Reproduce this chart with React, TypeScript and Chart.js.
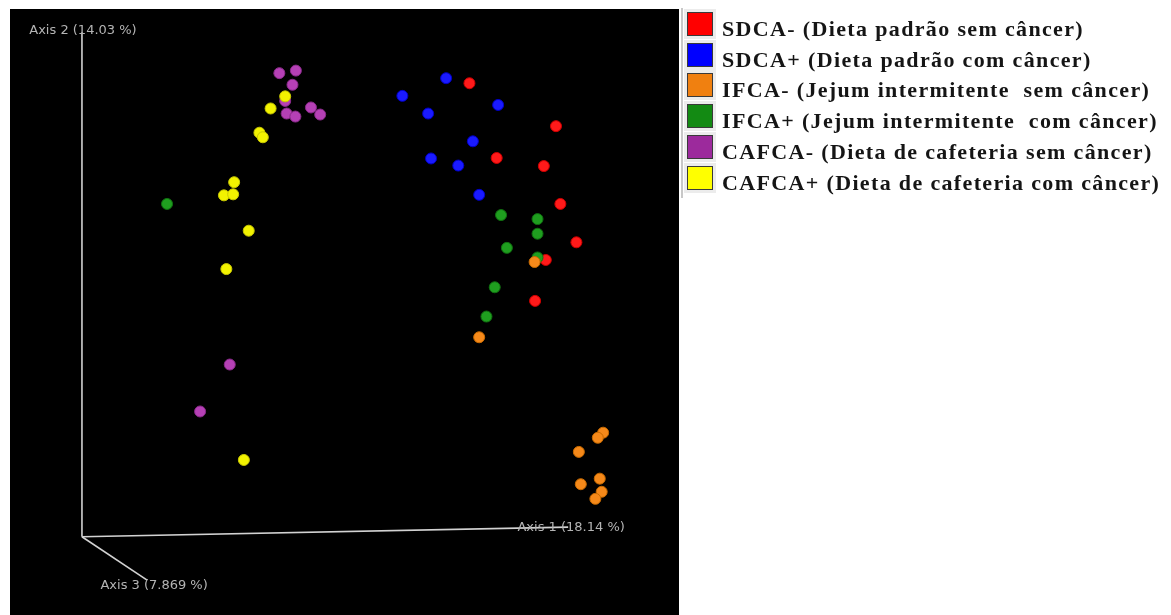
import React, { useEffect, useRef } from "react";
import { Chart, registerables } from "chart.js";

Chart.register(...registerables);

// ---- data (projected PCoA coordinates, axis-length units) ----
const groupNames = [
  "SDCA- (Dieta padrão sem câncer)",
  "SDCA+ (Dieta padrão com câncer)",
  "IFCA- (Jejum intermitente  sem câncer)",
  "IFCA+ (Jejum intermitente  com câncer)",
  "CAFCA- (Dieta de cafeteria sem câncer)",
  "CAFCA+ (Dieta de cafeteria com câncer)",
];
const groupColors = ["#ff0000", "#0000ff", "#f08010", "#138a13", "#9c2a9c", "#ffff00"];
const pointColors = ["#ff1a1a", "#1a1aff", "#f5891a", "#1f9e1f", "#b540b5", "#f2f200"];
const pointBorders = ["#d00000", "#0000c8", "#c86a00", "#107010", "#8a2a8a", "#c8c800"];
const drawOrder = [5, 4, 2, 3, 1, 0];

const sdcaNeg = [
  { x: 0.797, y: 0.898 }, { x: 0.975, y: 0.813 }, { x: 0.853, y: 0.75 }, { x: 0.95, y: 0.734 },
  { x: 0.984, y: 0.659 }, { x: 1.017, y: 0.583 }, { x: 0.954, y: 0.548 }, { x: 0.932, y: 0.467 },
];
const sdcaPos = [
  { x: 0.749, y: 0.908 }, { x: 0.659, y: 0.873 }, { x: 0.712, y: 0.838 }, { x: 0.856, y: 0.855 },
  { x: 0.804, y: 0.783 }, { x: 0.718, y: 0.749 }, { x: 0.774, y: 0.735 }, { x: 0.817, y: 0.677 },
];
const ifcaNeg = [
  { x: 0.931, y: 0.544 }, { x: 0.817, y: 0.395 }, { x: 1.072, y: 0.206 }, { x: 1.061, y: 0.196 },
  { x: 1.022, y: 0.168 }, { x: 1.065, y: 0.115 }, { x: 1.026, y: 0.104 }, { x: 1.069, y: 0.089 },
  { x: 1.056, y: 0.075 },
];
const ifcaPos = [
  { x: 0.862, y: 0.637 }, { x: 0.937, y: 0.629 }, { x: 0.937, y: 0.6 }, { x: 0.874, y: 0.572 },
  { x: 0.937, y: 0.553 }, { x: 0.849, y: 0.494 }, { x: 0.832, y: 0.436 }, { x: 0.175, y: 0.659 },
];
const cafcaNeg = [
  { x: 0.406, y: 0.918 }, { x: 0.44, y: 0.923 }, { x: 0.433, y: 0.895 }, { x: 0.418, y: 0.863 },
  { x: 0.421, y: 0.838 }, { x: 0.439, y: 0.832 }, { x: 0.471, y: 0.85 }, { x: 0.49, y: 0.836 },
  { x: 0.304, y: 0.341 }, { x: 0.243, y: 0.248 },
];
const cafcaPos = [
  { x: 0.418, y: 0.872 }, { x: 0.388, y: 0.848 }, { x: 0.365, y: 0.8 }, { x: 0.372, y: 0.791 },
  { x: 0.313, y: 0.702 }, { x: 0.292, y: 0.676 }, { x: 0.311, y: 0.678 }, { x: 0.343, y: 0.606 },
  { x: 0.297, y: 0.53 }, { x: 0.333, y: 0.152 },
];
const groupData = [sdcaNeg, sdcaPos, ifcaNeg, ifcaPos, cafcaNeg, cafcaPos];

const axisLabels = ["Axis 1 (18.14 %)", "Axis 2 (14.03 %)", "Axis 3 (7.869 %)"];
const axisEnds = [
  { x: 1.0, y: 0.019 },
  { x: 0.0, y: 0.999 },
  { x: 0.134, y: -0.086 },
];
const axisLabelOffsets = [
  { dx: 3, dy: 0 },
  { dx: 1, dy: -2 },
  { dx: 7, dy: 5 },
];

const pcoaPlugin = {
  id: "pcoaAxes",
  beforeDraw(chart: any) {
    const { ctx, chartArea: a } = chart;
    ctx.save();
    ctx.fillStyle = "#000000";
    ctx.fillRect(a.left, a.top, a.right - a.left, a.bottom - a.top);
    ctx.restore();
  },
  beforeDatasetsDraw(chart: any) {
    const { ctx } = chart;
    const xs = chart.scales.x;
    const ys = chart.scales.y;
    const ox = xs.getPixelForValue(0);
    const oy = ys.getPixelForValue(0);
    ctx.save();
    ctx.strokeStyle = "#d2d2d2";
    ctx.lineWidth = 1.6;
    axisEnds.forEach((e) => {
      ctx.beginPath();
      ctx.moveTo(ox, oy);
      ctx.lineTo(xs.getPixelForValue(e.x), ys.getPixelForValue(e.y));
      ctx.stroke();
    });
    ctx.fillStyle = "#b4b4b4";
    ctx.font = "13px 'DejaVu Sans'";
    ctx.textAlign = "center";
    ctx.textBaseline = "middle";
    axisEnds.forEach((e, i) => {
      ctx.fillText(
        axisLabels[i],
        xs.getPixelForValue(e.x) + axisLabelOffsets[i].dx,
        ys.getPixelForValue(e.y) + axisLabelOffsets[i].dy
      );
    });
    ctx.restore();
  },
};

export default function App() {
  const canvasRef = useRef<HTMLCanvasElement | null>(null);

  useEffect(() => {
    if (!canvasRef.current) return;
    const chart = new Chart(canvasRef.current, {
      type: "scatter",
      data: {
        datasets: groupData.map((d, i) => ({
          label: groupNames[i],
          data: d,
          order: drawOrder[i],
          backgroundColor: pointColors[i],
          borderColor: pointBorders[i],
          borderWidth: 1,
          pointRadius: 5.5,
          pointHoverRadius: 5.5,
        })),
      },
      options: {
        animation: false,
        responsive: false,
        events: [],
        layout: { autoPadding: false, padding: { left: 10, top: 9, right: 492, bottom: 0 } },
        scales: {
          x: { type: "linear", min: -0.148, max: 1.228, display: false },
          y: { type: "linear", min: -0.155, max: 1.045, display: false },
        },
        plugins: {
          legend: { display: false },
          tooltip: { enabled: false },
        },
      },
      plugins: [pcoaPlugin],
    });
    return () => chart.destroy();
  }, []);

  return (
    <div style={{ position: "absolute", left: 0, top: 0, width: 1171, height: 615, background: "#ffffff", overflow: "hidden" }}>
      <canvas ref={canvasRef} width={1171} height={615} style={{ display: "block", width: 1171, height: 615 }} />
      <div style={{ position: "absolute", left: 681, top: 8, width: 2, height: 190, background: "#c8c8c8" }} />
      {groupNames.map((name, i) => (
        <React.Fragment key={name}>
          <div
            style={{
              position: "absolute",
              left: 684,
              top: 9 + i * 30.7,
              width: 32,
              height: 30,
              background: "#ececec",
            }}
          />
          <div
            style={{
              position: "absolute",
              left: 687,
              top: 12 + i * 30.7,
              width: 26,
              height: 24,
              boxSizing: "border-box",
              border: "1.5px solid #3a3a3a",
              background: groupColors[i],
            }}
          />
          <div
            style={{
              position: "absolute",
              left: 722,
              top: 17 + i * 30.7,
              font: "bold 22px 'Liberation Serif'",
              lineHeight: "24px",
              letterSpacing: "1.35px",
              whiteSpace: "pre",
              color: "#151515",
            }}
          >
            {name}
          </div>
        </React.Fragment>
      ))}
    </div>
  );
}
